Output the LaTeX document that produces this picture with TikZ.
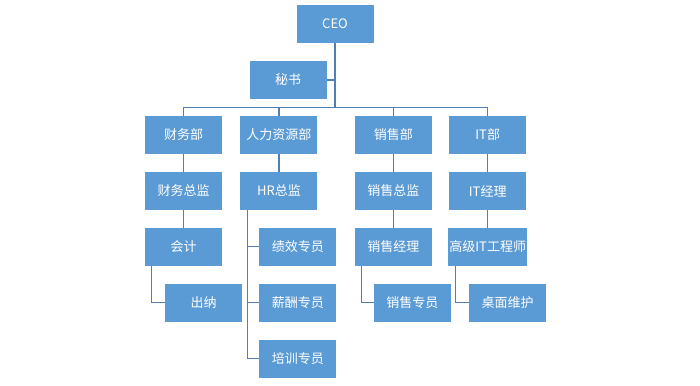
\documentclass[tikz,border=0pt]{standalone}
\usepackage{fontspec}
\usepackage{xcolor}
\usepackage{tikz}
\usetikzlibrary{positioning, calc}
\newfontfamily\cjk{Noto Sans CJK SC}
\definecolor{boxblue}{HTML}{5B9BD5}
\definecolor{lineblue}{HTML}{4F7FB3}

\begin{document}
\begin{tikzpicture}[
    x=1pt, y=1pt,
    node distance=17.5pt and 18pt,
    every node/.style={font=\cjk\fontsize{13}{15}\selectfont},
    box/.style={rectangle, fill=boxblue, text=white, minimum height=38pt, minimum width=77pt, inner sep=1pt, align=center},
    link/.style={draw=lineblue, line width=1.2pt},
]
    \useasboundingbox (0,0) rectangle (700,-385);

    % --- top ---
    \node[box] (ceo) at (335,-24) {CEO};
    \node[box] (sec) at (288,-80) {秘书};

    % --- departments ---
    \node[box] (fin) at (183.5,-135) {财务部};
    \node[box, right=of fin] (hr) {人力资源部};
    \node[box, right=37pt of hr] (sales) {销售部};
    \node[box, right=17pt of sales] (it) {IT部};

    % --- finance ---
    \node[box, below=of fin] (findir) {财务总监};
    \node[box, below=of findir] (acct) {会计};
    \node[box, below=of acct, xshift=20pt] (cashier) {出纳};

    % --- hr ---
    \node[box, below=of hr] (hrdir) {HR总监};
    \node[box, below=of hrdir, xshift=19pt] (perf) {绩效专员};
    \node[box, below=of perf] (pay) {薪酬专员};
    \node[box, below=of pay] (train) {培训专员};

    % --- sales ---
    \node[box, below=of sales] (salesdir) {销售总监};
    \node[box, below=of salesdir] (salesmgr) {销售经理};
    \node[box, below=of salesmgr, xshift=19pt] (salesrep) {销售专员};

    % --- it ---
    \node[box, below=of it] (itmgr) {IT经理};
    \node[box, below=of itmgr] (senior) {高级IT工程师};
    \node[box, below=of senior, xshift=20pt] (desk) {桌面维护};

    % --- connectors ---
    \draw[link] (ceo.south) -- ++(0,-64) coordinate (hub);
    \draw[link] (fin.north) |- (hub) -| (it.north);
    \draw[link] (hr.north) -- (hr.north |- hub);
    \draw[link] (sales.north) -- (sales.north |- hub);
    \draw[link] (sec.east) -- (sec.east -| ceo.south);

    \draw[link] (fin) -- (findir);
    \draw[link] (findir) -- (acct);
    \draw[link] (hr) -- (hrdir);
    \draw[link] (sales) -- (salesdir);
    \draw[link] (salesdir) -- (salesmgr);
    \draw[link] (it) -- (itmgr);
    \draw[link] (itmgr) -- (senior);

    \draw[link] ([xshift=7pt]acct.south west) |- (cashier.west);
    \foreach \n in {perf, pay, train}
        \draw[link] ([xshift=7pt]hrdir.south west) |- (\n.west);
    \draw[link] ([xshift=7pt]salesmgr.south west) |- (salesrep.west);
    \draw[link] ([xshift=7pt]senior.south west) |- (desk.west);

\end{tikzpicture}
\end{document}
